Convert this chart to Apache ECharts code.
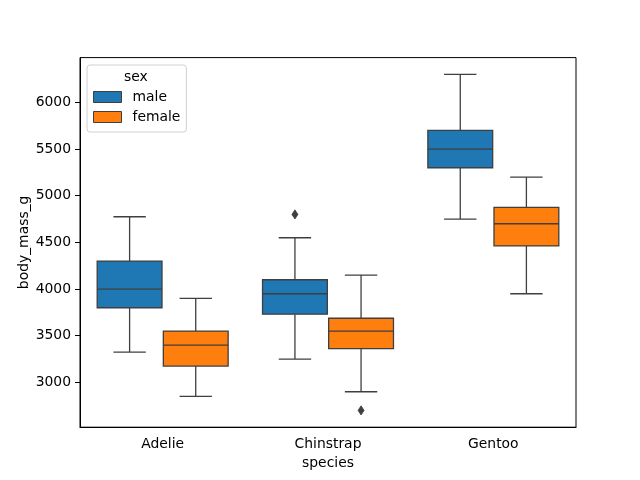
<!DOCTYPE html>
<html>
<head>
<meta charset="utf-8">
<script src="https://cdn.jsdelivr.net/npm/echarts@6/dist/echarts.min.js"></script>
<style>html,body{margin:0;padding:0;background:#fff}#c{width:640px;height:480px}</style>
</head>
<body>
<div id="c"></div>
<script>
// Data
const categories = ['Adelie', 'Chinstrap', 'Gentoo'];
const sexes = ['male', 'female'];
// [lower whisker, Q1, median, Q3, upper whisker]
const maleStats = [
  [3325, 3800, 4000, 4300, 4775],
  [3250, 3731.25, 3950, 4100, 4550],
  [4750, 5300, 5500, 5700, 6300]
];
const femaleStats = [
  [2850, 3175, 3400, 3550, 3900],
  [2900, 3362.5, 3550, 3687.5, 4150],
  [3950, 4462.5, 4700, 4875, 5200]
];
// [species index, value]
const maleOutliers = [[1, 4800]];
const femaleOutliers = [[1, 2700]];
const yTicks = [3000, 3500, 4000, 4500, 5000, 5500, 6000];

const FONT = 'DejaVu Sans';
const FS = 13.9;
const LINE = '#3f3f3f';
const colors = ['#1f77b4', '#ff7f0e'];
const dodge = [-0.2, 0.2];

function boxRenderer(sexIdx) {
  return function (params, api) {
    const c = api.value(0);
    const bw = api.size([1, 0])[0];
    const off = dodge[sexIdx] * bw;
    const half = 0.196 * bw;
    const cap = half / 2;
    const p = [1, 2, 3, 4, 5].map(function (i) { return api.coord([c, api.value(i)]); });
    const x = p[0][0] + off;
    const ls = { stroke: LINE, lineWidth: 1.3 };
    return {
      type: 'group',
      children: [
        { type: 'line', shape: { x1: x, y1: p[0][1], x2: x, y2: p[1][1] }, style: ls },
        { type: 'line', shape: { x1: x, y1: p[3][1], x2: x, y2: p[4][1] }, style: ls },
        { type: 'line', shape: { x1: x - cap, y1: p[0][1], x2: x + cap, y2: p[0][1] }, style: ls },
        { type: 'line', shape: { x1: x - cap, y1: p[4][1], x2: x + cap, y2: p[4][1] }, style: ls },
        { type: 'rect', shape: { x: x - half, y: p[3][1], width: 2 * half, height: p[1][1] - p[3][1] },
          style: { fill: colors[sexIdx], stroke: LINE, lineWidth: 1.3 } },
        { type: 'line', shape: { x1: x - half, y1: p[2][1], x2: x + half, y2: p[2][1] }, style: ls }
      ]
    };
  };
}

function outlierRenderer(sexIdx) {
  return function (params, api) {
    const c = api.value(0);
    const bw = api.size([1, 0])[0];
    const pt = api.coord([c, api.value(1)]);
    const x = pt[0] + dodge[sexIdx] * bw;
    const y = pt[1];
    const w = 3, h = 4.6;
    return {
      type: 'polygon',
      shape: { points: [[x, y - h], [x + w, y], [x, y + h], [x - w, y]] },
      style: { fill: LINE, stroke: LINE, lineWidth: 0.8 }
    };
  };
}

function toBoxData(stats) {
  return stats.map(function (s, i) { return [i].concat(s); });
}

const chart = echarts.init(document.getElementById('c'), null, { renderer: 'canvas' });
chart.setOption({
  animation: false,
  backgroundColor: '#fff',
  textStyle: { fontFamily: FONT },
  title: {
    text: 'sex', left: 124, top: 70, padding: 0,
    textStyle: { fontFamily: FONT, fontSize: FS, fontWeight: 'normal', color: '#000' }
  },
  legend: {
    orient: 'vertical', left: 87, top: 65,
    padding: [25, 6, 8, 6],
    itemGap: 6, itemWidth: 28, itemHeight: 11,
    icon: 'rect',
    borderColor: '#d0d0d0', borderWidth: 1, borderRadius: 3,
    backgroundColor: 'rgba(255,255,255,0.8)',
    textStyle: { fontFamily: FONT, fontSize: FS, color: '#000', padding: [0, 0, 0, 6] },
    data: sexes.map(function (s, i) {
      return { name: s, itemStyle: { color: colors[i], borderColor: LINE, borderWidth: 1 } };
    })
  },
  grid: { left: 80, right: 64, top: 57.6, bottom: 52.8, show: true, borderColor: '#000', borderWidth: 1, backgroundColor: 'transparent' },
  xAxis: {
    type: 'category', data: categories,
    name: 'species', nameLocation: 'middle', nameGap: 29, nameMoveOverlap: false,
    nameTextStyle: { fontFamily: FONT, fontSize: FS, color: '#000' },
    axisLine: { lineStyle: { color: '#000', width: 1 } },
    axisTick: { alignWithLabel: true, length: 5, lineStyle: { color: '#000' } },
    axisLabel: { margin: 10, fontFamily: FONT, fontSize: FS, color: '#000' },
    splitLine: { show: false }
  },
  yAxis: {
    type: 'value', min: 2520, max: 6480,
    name: 'body_mass_g', nameLocation: 'middle', nameGap: 49, nameRotate: 90, nameMoveOverlap: false,
    nameTextStyle: { fontFamily: FONT, fontSize: FS, color: '#000' },
    axisLine: { show: true, lineStyle: { color: '#000', width: 1 } },
    axisTick: { show: true, length: 5, lineStyle: { color: '#000' }, customValues: yTicks },
    axisLabel: { margin: 9, fontFamily: FONT, fontSize: FS, color: '#000', customValues: yTicks,
      formatter: function (v) { return String(v); } },
    splitLine: { show: false }
  },
  series: [
    { name: 'male', type: 'custom', renderItem: boxRenderer(0), data: toBoxData(maleStats),
      encode: { x: 0, y: [1, 2, 3, 4, 5] }, itemStyle: { color: colors[0] } },
    { name: 'female', type: 'custom', renderItem: boxRenderer(1), data: toBoxData(femaleStats),
      encode: { x: 0, y: [1, 2, 3, 4, 5] }, itemStyle: { color: colors[1] } },
    { name: 'male outliers', type: 'custom', renderItem: outlierRenderer(0), data: maleOutliers,
      encode: { x: 0, y: 1 } },
    { name: 'female outliers', type: 'custom', renderItem: outlierRenderer(1), data: femaleOutliers,
      encode: { x: 0, y: 1 } }
  ]
});
</script>
</body>
</html>
